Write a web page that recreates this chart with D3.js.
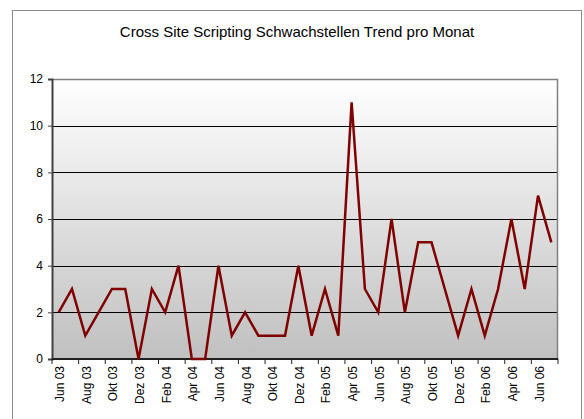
<!DOCTYPE html>
<html>
<head>
<meta charset="utf-8">
<script src="https://cdn.jsdelivr.net/npm/d3@7.9.0/dist/d3.min.js"></script>
<style>
  body { margin: 0; background: #fff; }
  svg { display: block; font-family: "Liberation Sans", Arial, sans-serif; }
</style>
</head>
<body>
<svg id="chart" width="584" height="419"></svg>
<script>
// Monthly data, Jun 03 .. Jul 06
const months = [
  'Jun 03', 'Jul 03', 'Aug 03', 'Sep 03', 'Okt 03', 'Nov 03', 'Dez 03',
  'Jan 04', 'Feb 04', 'Mrz 04', 'Apr 04', 'Mai 04', 'Jun 04', 'Jul 04',
  'Aug 04', 'Sep 04', 'Okt 04', 'Nov 04', 'Dez 04',
  'Jan 05', 'Feb 05', 'Mrz 05', 'Apr 05', 'Mai 05', 'Jun 05', 'Jul 05',
  'Aug 05', 'Sep 05', 'Okt 05', 'Nov 05', 'Dez 05',
  'Jan 06', 'Feb 06', 'Mrz 06', 'Apr 06', 'Mai 06', 'Jun 06', 'Jul 06'
];
const counts = [
  2, 3, 1, 2, 3, 3, 0,
  3, 2, 4, 0, 0, 4, 1,
  2, 1, 1, 1, 4,
  1, 3, 1, 11, 3, 2, 6,
  2, 5, 5, 3, 1,
  3, 1, 3, 6, 3, 7, 5
];
const yTicks = [0, 2, 4, 6, 8, 10, 12];
const title = 'Cross Site Scripting Schwachstellen Trend pro Monat';

const svg = d3.select('#chart');
const plot = { left: 52, top: 79, right: 558, bottom: 359 };

// outer frame
svg.append('rect')
  .attr('x', 12.5).attr('y', 10.5)
  .attr('width', 569).attr('height', 420)
  .attr('fill', 'none').attr('stroke', '#8c8c8c');

svg.append('text')
  .attr('x', 297).attr('y', 37)
  .attr('text-anchor', 'middle')
  .attr('font-size', 15)
  .text(title);

const x = d3.scaleBand()
  .domain(months)
  .range([plot.left, plot.right]);

const y = d3.scaleLinear()
  .domain([0, 12])
  .range([plot.bottom, plot.top]);

// background gradient
const grad = svg.append('defs').append('linearGradient')
  .attr('id', 'bg').attr('x1', 0).attr('y1', 0).attr('x2', 0).attr('y2', 1);
grad.append('stop').attr('offset', '0%').attr('stop-color', '#ffffff');
grad.append('stop').attr('offset', '100%').attr('stop-color', '#c0c0c0');

svg.append('rect')
  .attr('x', plot.left).attr('y', plot.top)
  .attr('width', plot.right - plot.left).attr('height', plot.bottom - plot.top)
  .attr('fill', 'url(#bg)');

// gridlines
svg.append('g')
  .selectAll('line')
  .data(yTicks.filter(d => d > 0 && d < 12))
  .join('line')
  .attr('x1', plot.left).attr('x2', plot.right)
  .attr('y1', d => Math.round(y(d)) + 0.5).attr('y2', d => Math.round(y(d)) + 0.5)
  .attr('stroke', '#000').attr('stroke-width', 1);

// plot border top/right
svg.append('path')
  .attr('d', `M${plot.left},${plot.top + 0.5}H${plot.right - 0.5}V${plot.bottom}`)
  .attr('fill', 'none').attr('stroke', '#808080').attr('stroke-width', 1.5);

// y axis
const yAxis = svg.append('g')
  .attr('transform', `translate(${plot.left},0)`)
  .call(d3.axisLeft(y).tickValues(yTicks).tickSize(4).tickPadding(5));
yAxis.select('.domain').attr('stroke', '#404040').attr('stroke-width', 2);
yAxis.selectAll('.tick line').attr('stroke', '#404040');
yAxis.selectAll('text').attr('font-size', 12).attr('fill', '#000')
  .attr('font-family', '"Liberation Sans", Arial, sans-serif');

// x axis: ticks every 2 categories at band boundaries
const tickMonths = months.filter((d, i) => i % 2 === 0);
const xAxis = svg.append('g')
  .attr('transform', `translate(0,${plot.bottom})`);
xAxis.append('line')
  .attr('x1', plot.left).attr('x2', plot.right)
  .attr('y1', 0).attr('y2', 0)
  .attr('stroke', '#202020').attr('stroke-width', 2);
xAxis.selectAll('line.tk')
  .data(tickMonths.concat(['end']))
  .join('line')
  .attr('class', 'tk')
  .attr('x1', d => d === 'end' ? plot.right : x(d))
  .attr('x2', d => d === 'end' ? plot.right : x(d))
  .attr('y1', 0).attr('y2', 5)
  .attr('stroke', '#202020');
xAxis.selectAll('text')
  .data(tickMonths)
  .join('text')
  .attr('transform', d => `translate(${x(d) + x.bandwidth() / 2 + 5.5},7) rotate(-90)`)
  .attr('text-anchor', 'end')
  .attr('font-size', 12)
  .text(d => d);

// line
const line = d3.line()
  .x((d, i) => x(months[i]) + x.bandwidth() / 2)
  .y(d => y(d));

svg.append('path')
  .datum(counts)
  .attr('d', line)
  .attr('fill', 'none')
  .attr('stroke', '#800000')
  .attr('stroke-width', 2.5)
  .attr('stroke-linejoin', 'miter');
</script>
</body>
</html>
